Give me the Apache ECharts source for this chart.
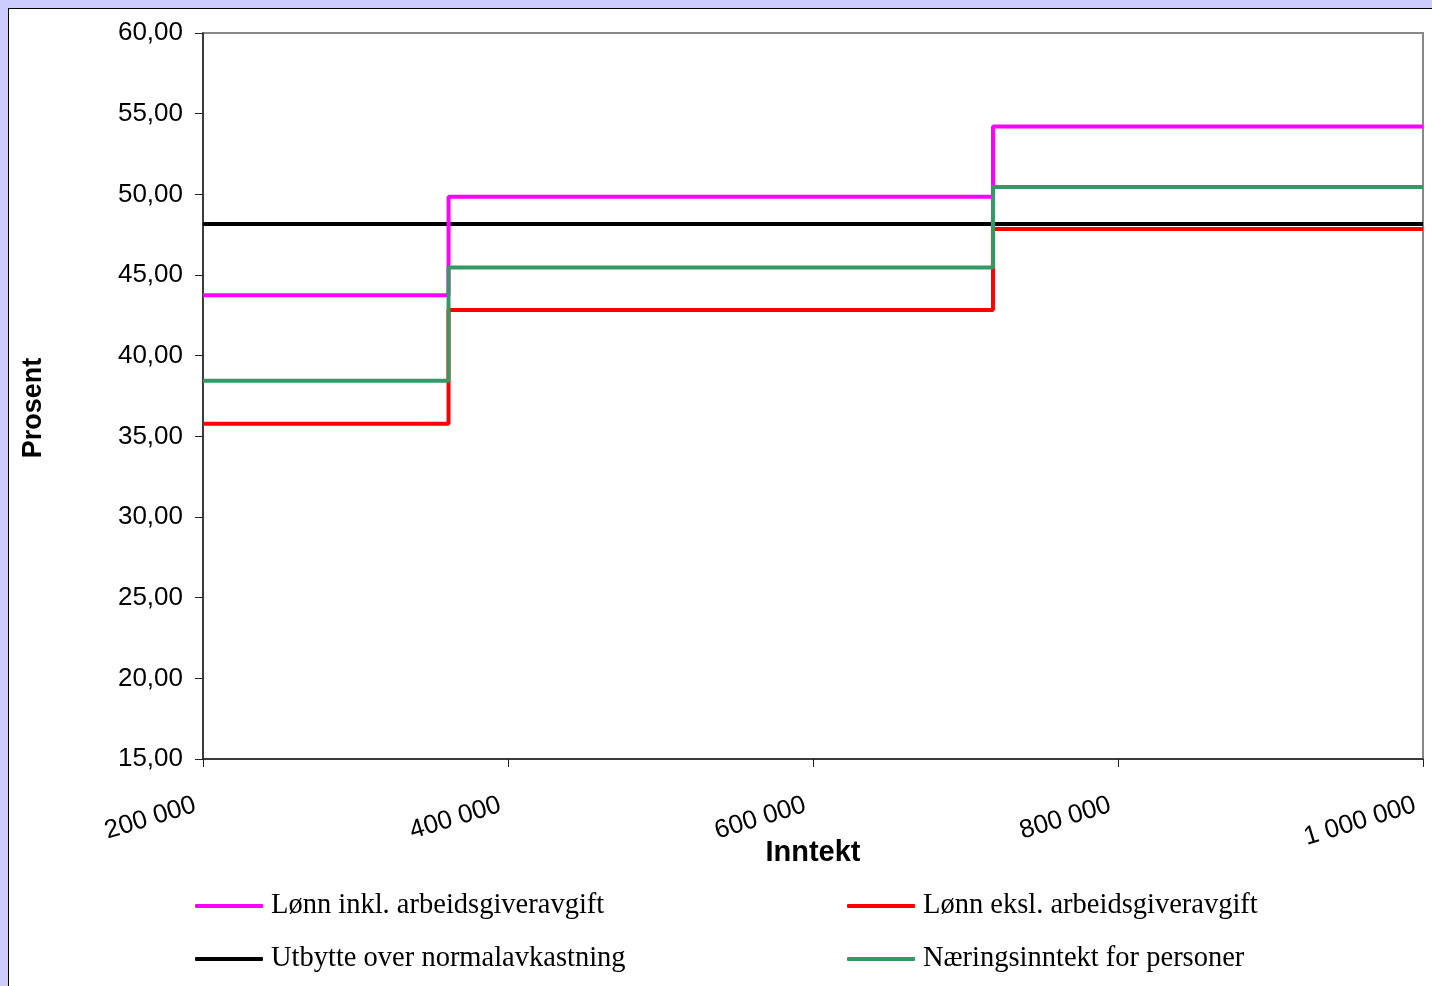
<!DOCTYPE html>
<html>
<head>
<meta charset="utf-8">
<script src="https://cdn.jsdelivr.net/npm/echarts@6/dist/echarts.min.js"></script>
<style>
  html, body { margin: 0; padding: 0; width: 1432px; height: 986px; overflow: hidden; }
  body { background: #ccccff; position: relative; }
  #frame { position: absolute; left: 8px; top: 8px; width: 1430px; height: 984px; background: #fff;
           border-left: 1px solid #000; border-top: 1px solid #000; box-sizing: border-box; }
  #chart { position: absolute; left: 0; top: 0; width: 1432px; height: 986px; }
</style>
</head>
<body>
<div id="frame"></div>
<div id="chart"></div>
<script>
// Income breakpoints (x) where the marginal tax rate changes
const incomeBreaks = [200000, 361000, 718000, 1000000];
// Marginal tax (percent) per segment, last value repeated for the end point
const lonnInkl = [43.74, 49.85, 54.20, 54.20];
const lonnEksl = [35.78, 42.83, 47.85, 47.85];
const utbytte  = [48.16, 48.16, 48.16, 48.16];
const naering  = [38.45, 45.47, 50.45, 50.45];

const seriesNames = {
  inkl: 'Lønn inkl. arbeidsgiveravgift',
  eksl: 'Lønn eksl. arbeidsgiveravgift',
  utb: 'Utbytte over normalavkastning',
  nar: 'Næringsinntekt for personer'
};
const colors = { inkl: '#ff00ff', eksl: '#ff0000', utb: '#000000', nar: '#339966' };

function pairs(vals) { return incomeBreaks.map((x, i) => [x, vals[i]]); }
function mk(key, vals, z) {
  return {
    name: seriesNames[key], type: 'line', step: 'end', data: pairs(vals),
    showSymbol: false, symbol: 'none', z: z,
    lineStyle: { color: colors[key], width: 4 }, itemStyle: { color: colors[key] }
  };
}

const chart = echarts.init(document.getElementById('chart'), null, { renderer: 'canvas' });
const legendText = { fontFamily: '"Liberation Serif", "Times New Roman", serif', fontSize: 28.5, color: '#000', lineHeight: 30, padding: [0,0,0,3] };
chart.setOption({
  animation: false,
  backgroundColor: 'transparent',
  grid: { left: 203, top: 33, right: 9, bottom: 227, show: true, borderColor: '#888', borderWidth: 2, backgroundColor: 'transparent' },
  xAxis: {
    type: 'value', min: 200000, max: 1000000, interval: 200000,
    name: 'Inntekt', nameLocation: 'middle', nameGap: 79, nameMoveOverlap: false,
    nameTextStyle: { fontFamily: '"Liberation Sans", Arial, sans-serif', fontWeight: 'bold', fontSize: 29, color: '#000' },
    axisLine: { show: true, lineStyle: { color: '#222', width: 1.5 } },
    axisTick: { show: true, inside: false, length: 8, lineStyle: { color: '#222' } },
    splitLine: { show: false },
    axisLabel: {
      rotate: 17, margin: 43, fontFamily: '"Liberation Sans", Arial, sans-serif', fontSize: 26, color: '#000',
      padding: [0, 8, 0, 0],
      formatter: v => String(v).replace(/\B(?=(\d{3})+(?!\d))/g, ' ')
    }
  },
  yAxis: {
    type: 'value', min: 15, max: 60, interval: 5,
    name: 'Prosent', nameLocation: 'middle', nameGap: 156, nameRotate: 90, nameMoveOverlap: false,
    nameTextStyle: { fontFamily: '"Liberation Sans", Arial, sans-serif', fontWeight: 'bold', fontSize: 27, color: '#000', padding: [0, 24, 0, 0] },
    axisLine: { show: true, lineStyle: { color: '#222', width: 1.5 } },
    axisTick: { show: true, inside: false, length: 8, lineStyle: { color: '#222' } },
    splitLine: { show: false },
    axisLabel: {
      margin: 20, fontFamily: '"Liberation Sans", Arial, sans-serif', fontSize: 26, color: '#000',
      formatter: v => v.toFixed(2).replace('.', ',')
    }
  },
  legend: [
    { left: 195, top: 891, padding: 0, orient: 'vertical', itemWidth: 68, itemHeight: 4, itemGap: 23, icon: 'roundRect',
      data: [seriesNames.inkl, seriesNames.utb], textStyle: legendText, selectedMode: false },
    { left: 847, top: 891, padding: 0, orient: 'vertical', itemWidth: 68, itemHeight: 4, itemGap: 23, icon: 'roundRect',
      data: [seriesNames.eksl, seriesNames.nar], textStyle: legendText, selectedMode: false }
  ],
  series: [
    mk('utb', utbytte, 2),
    mk('inkl', lonnInkl, 3),
    mk('eksl', lonnEksl, 4),
    mk('nar', naering, 5)
  ]
});
</script>
</body>
</html>
